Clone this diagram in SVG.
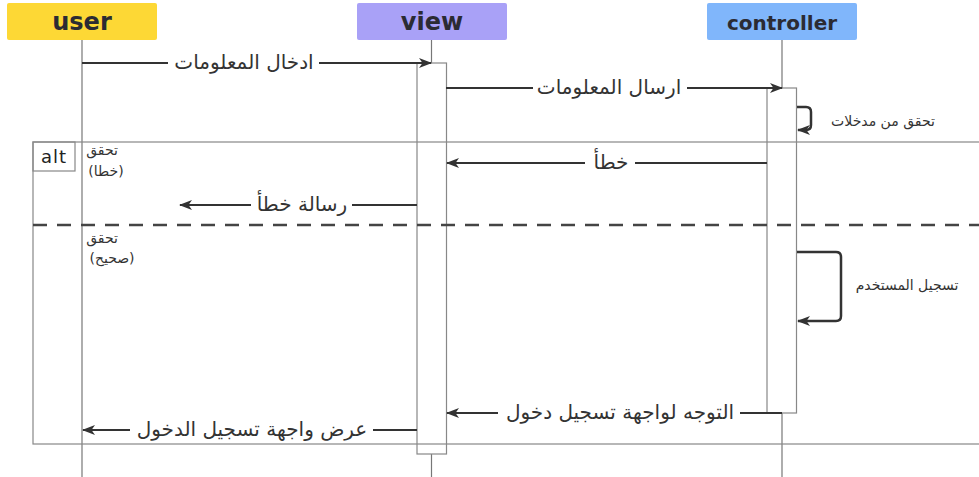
<svg xmlns="http://www.w3.org/2000/svg" width="979" height="477" viewBox="0 0 979 477">
  <defs>
    <marker id="arr" markerUnits="userSpaceOnUse" markerWidth="13" markerHeight="10" refX="12" refY="5" orient="auto">
      <path d="M0,0 L13,5 L0,10 L3.5,5 Z" fill="#333"/>
    </marker>
    <style>
      .hdr { font-family: "DejaVu Sans", sans-serif; font-weight: bold; fill: #2b2b33; text-anchor: middle; }
      .life { stroke: #777; stroke-width: 1.2; fill: none; }
      .act { fill: #fff; stroke: #888; stroke-width: 1.2; }
      .msg { stroke: #333; stroke-width: 2; fill: none; }
      .self { stroke: #333; stroke-width: 2.5; fill: none; }
      .lbl { font-family: "DejaVu Sans", sans-serif; font-size: 20px; fill: #333; text-anchor: middle; }
      .small { font-family: "DejaVu Sans", sans-serif; font-size: 14px; fill: #333; text-anchor: middle; }
      .guard { font-family: "DejaVu Sans", sans-serif; font-size: 14px; fill: #333; text-anchor: middle; }
      .frame { stroke: #888; stroke-width: 1.2; fill: none; }
    </style>
  </defs>
  <rect width="979" height="477" fill="#fff"/>

  <g id="lifelines">
    <line class="life" x1="82" y1="40" x2="82" y2="477"/>
    <line class="life" x1="431.5" y1="40" x2="431.5" y2="477"/>
    <line class="life" x1="782" y1="40" x2="782" y2="477"/>
  </g>

  <g id="user">
    <rect x="7" y="3" width="150" height="37" rx="2" fill="#FDD835"/>
    <text class="hdr" x="82" y="30" font-size="24">user</text>
  </g>
  <g id="view">
    <rect x="357" y="3" width="150" height="37" rx="2" fill="#A9A1F7"/>
    <text class="hdr" x="432" y="30" font-size="24">view</text>
    <rect class="act" x="417" y="63" width="29.5" height="391"/>
  </g>
  <g id="controller">
    <rect x="707" y="3" width="150" height="37" rx="2" fill="#80B6FB"/>
    <text class="hdr" x="782" y="30" font-size="20">controller</text>
    <rect class="act" x="767" y="88" width="29.5" height="325"/>
  </g>

  <g id="alt-frame">
    <rect class="frame" x="33" y="142" width="960" height="302"/>
    <rect class="frame" x="33" y="142" width="42" height="29"/>
    <text x="54" y="163" font-family="DejaVu Sans, sans-serif" font-size="18" letter-spacing="1" fill="#222" text-anchor="middle">alt</text>
    <line x1="33" y1="225" x2="979" y2="225" stroke="#444" stroke-width="2.5" stroke-dasharray="14 10"/>
    <text class="guard" x="102" y="155">تحقق</text>
    <text class="guard" x="106" y="176">(خطا)</text>
    <text class="guard" x="102" y="243">تحقق</text>
    <text class="guard" x="112" y="263">(صحيح)</text>
  </g>

  <g id="connectors">
    <path class="msg" d="M82,63 H168"/>
    <path class="msg" d="M319,63 H431" marker-end="url(#arr)"/>
    <text class="lbl" x="244" y="69">ادخال المعلومات</text>

    <path class="msg" d="M446,88 H533"/>
    <path class="msg" d="M687,88 H782" marker-end="url(#arr)"/>
    <text class="lbl" x="609" y="94">ارسال المعلومات</text>

    <path class="self" d="M797,107 H806 Q811,107 811,112 V125 Q811,130 806,130 H798" marker-end="url(#arr)"/>
    <text class="small" x="883" y="126">تحقق من مدخلات</text>

    <path class="msg" d="M767,163 H635"/>
    <path class="msg" d="M585,163 H447" marker-end="url(#arr)"/>
    <text class="lbl" x="611" y="169">خطأ</text>

    <path class="msg" d="M417,205 H352"/>
    <path class="msg" d="M251,205 H180" marker-end="url(#arr)"/>
    <text class="lbl" x="302" y="211">رسالة خطأ</text>

    <path class="self" d="M797,252 H836 Q841,252 841,257 V316 Q841,321 836,321 H798" marker-end="url(#arr)"/>
    <text class="small" x="907" y="290">تسجيل المستخدم</text>

    <path class="msg" d="M782,413 H740"/>
    <path class="msg" d="M498,413 H447" marker-end="url(#arr)"/>
    <text class="lbl" x="620" y="419">التوجه لواجهة تسجيل دخول</text>

    <path class="msg" d="M417,430 H373"/>
    <path class="msg" d="M130,430 H83" marker-end="url(#arr)"/>
    <text class="lbl" x="252" y="436">عرض واجهة تسجيل الدخول</text>
  </g>
</svg>
